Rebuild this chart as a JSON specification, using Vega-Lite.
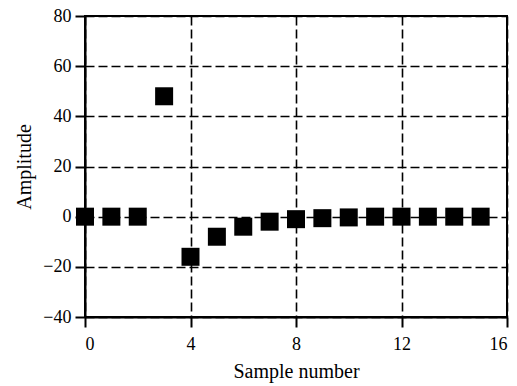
{
  "$schema": "https://vega.github.io/schema/vega-lite/v6.json",
  "autosize": "none",
  "width": 422,
  "height": 301,
  "padding": {"left": 85, "top": 16, "right": 10, "bottom": 69},
  "background": "white",
  "config": {
    "font": "Liberation Serif",
    "view": {"stroke": "black", "strokeWidth": 2},
    "axis": {
      "domainColor": "black",
      "domainWidth": 2,
      "tickColor": "black",
      "tickWidth": 2,
      "tickSize": 10,
      "gridColor": "black",
      "gridWidth": 1.6,
      "gridDash": [9, 4],
      "gridOpacity": 1,
      "labelFont": "Liberation Serif",
      "labelFontSize": 18,
      "labelColor": "black",
      "titleFont": "Liberation Serif",
      "titleFontSize": 20,
      "titleFontWeight": "normal",
      "titleColor": "black"
    }
  },
  "data": {
    "values": [
      {"n": 0, "amp": 0},
      {"n": 1, "amp": 0},
      {"n": 2, "amp": 0},
      {"n": 3, "amp": 48},
      {"n": 4, "amp": -16},
      {"n": 5, "amp": -8},
      {"n": 6, "amp": -4},
      {"n": 7, "amp": -2},
      {"n": 8, "amp": -1},
      {"n": 9, "amp": -0.6},
      {"n": 10, "amp": -0.3},
      {"n": 11, "amp": 0},
      {"n": 12, "amp": 0},
      {"n": 13, "amp": 0},
      {"n": 14, "amp": 0},
      {"n": 15, "amp": 0}
    ]
  },
  "mark": {"type": "point", "shape": "square", "filled": true, "color": "black", "size": 324, "opacity": 1},
  "encoding": {
    "x": {
      "field": "n",
      "type": "quantitative",
      "scale": {"domain": [0, 16], "nice": false},
      "axis": {"values": [0, 4, 8, 12, 16], "title": "Sample number", "labelPadding": 8, "titlePadding": 8}
    },
    "y": {
      "field": "amp",
      "type": "quantitative",
      "scale": {"domain": [-40, 80], "nice": false},
      "axis": {"values": [-40, -20, 0, 20, 40, 60, 80], "title": "Amplitude", "labelPadding": 4, "titlePadding": 8}
    }
  }
}
